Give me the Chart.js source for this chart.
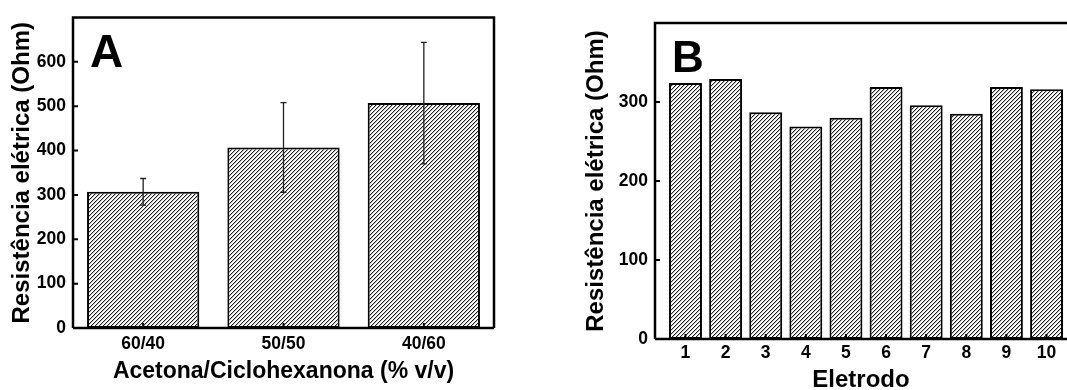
<!DOCTYPE html>
<html>
<head>
  <title>Resistência elétrica</title>
  <style>
    body {
      margin: 0;
      background: #fff;
      width: 1067px;
      height: 390px;
      overflow: hidden;
      position: relative;
    }
    #wrapA { position: absolute; left: 0; top: 0; width: 520px; height: 390px; }
    #wrapB { position: absolute; left: 560px; top: 0; width: 507px; height: 395px; }
  </style>
  <script src="https://cdn.jsdelivr.net/npm/chart.js"></script>
</head>
<body>
  <div id="wrapA"><canvas id="chartA" width="520" height="390"></canvas></div>
  <div id="wrapB"><canvas id="chartB" width="507" height="395"></canvas></div>

<script>
// panel A
const solventRatios = ['60/40', '50/50', '40/60'];
const resistanceA = [307, 407, 507];
const errorA = [30, 101, 137];
const yTicksA = [0, 100, 200, 300, 400, 500, 600];

// panel B
const electrodes = [1, 2, 3, 4, 5, 6, 7, 8, 9, 10];
const resistanceB = [324, 329, 287, 269, 280, 319, 296, 285, 319, 316];
const yTicksB = [0, 100, 200, 300];

const FONT = 'Liberation Sans, Arial, sans-serif';
const tickFont = { family: FONT, size: 17.5, weight: 'bold' };

// diagonal "////" hatch, 4px period
function makeHatch() {
  const c = document.createElement('canvas');
  c.width = 4; c.height = 4;
  const cx = c.getContext('2d');
  const img = cx.createImageData(4, 4);
  for (let y = 0; y < 4; y++) {
    for (let x = 0; x < 4; x++) {
      const k = (x + y) % 4;
      const v = k === 0 ? 30 : (k === 1 ? 195 : 255);
      const i = (y * 4 + x) * 4;
      img.data[i] = v; img.data[i + 1] = v; img.data[i + 2] = v; img.data[i + 3] = 255;
    }
  }
  cx.putImageData(img, 0, 0);
  return cx.createPattern(c, 'repeat');
}
const hatch = makeHatch();

// axis box, inward ticks, error bars and panel letter
const framePlugin = {
  id: 'frame',
  afterDatasetsDraw(chart, args, opts) {
    const { ctx, chartArea: a, scales: { x, y } } = chart;
    ctx.save();

    if (opts.errors) {
      const meta = chart.getDatasetMeta(0);
      ctx.strokeStyle = '#222';
      ctx.lineWidth = 1.3;
      opts.errors.forEach((e, i) => {
        const v = chart.data.datasets[0].data[i];
        const px = meta.data[i].x;
        const top = y.getPixelForValue(v + e);
        const bot = y.getPixelForValue(v - e);
        ctx.beginPath();
        ctx.moveTo(px, top); ctx.lineTo(px, bot);
        ctx.moveTo(px - 3, top); ctx.lineTo(px + 3, top);
        ctx.moveTo(px - 3, bot); ctx.lineTo(px + 3, bot);
        ctx.stroke();
      });
    }

    ctx.strokeStyle = '#000';
    ctx.lineWidth = 2;
    ctx.beginPath();
    y.ticks.forEach(t => {
      const py = y.getPixelForValue(t.value);
      ctx.moveTo(a.left, py); ctx.lineTo(a.left + 5, py);
    });
    x.ticks.forEach((t, i) => {
      const px = x.getPixelForTick(i);
      ctx.moveTo(px, a.bottom); ctx.lineTo(px, a.bottom - 5);
    });
    ctx.stroke();

    ctx.lineWidth = 2.5;
    ctx.beginPath();
    ctx.moveTo(a.left, a.bottom); ctx.lineTo(a.left, a.top); ctx.lineTo(a.right, a.top);
    if (opts.right) ctx.lineTo(a.right, a.bottom);
    ctx.moveTo(a.left, a.bottom); ctx.lineTo(a.right, a.bottom);
    ctx.stroke();

    ctx.fillStyle = '#000';
    ctx.font = 'bold ' + opts.letterSize + 'px ' + FONT;
    ctx.textBaseline = 'alphabetic';
    ctx.fillText(opts.letter, a.left + 17, a.top + 49);
    ctx.restore();
  }
};

function yAxis(max, ticks, width, titlePad) {
  return {
    min: 0,
    max: max,
    afterBuildTicks: s => { s.ticks = ticks.map(v => ({ value: v })); },
    afterFit: s => { s.width = width; },
    grid: { display: false, drawTicks: false },
    border: { display: false },
    ticks: { padding: 7, color: '#000', font: tickFont },
    title: {
      display: true,
      text: 'Resistência elétrica (Ohm)',
      color: '#000',
      font: { family: FONT, size: 24, weight: 'bold' },
      padding: { top: titlePad, bottom: 0 }
    }
  };
}

// --- Panel A ---
new Chart(document.getElementById('chartA'), {
  type: 'bar',
  data: {
    labels: solventRatios,
    datasets: [{
      data: resistanceA,
      backgroundColor: hatch,
      borderColor: '#000',
      borderWidth: 2,
      borderSkipped: false,
      barPercentage: 0.8,
      categoryPercentage: 1
    }]
  },
  options: {
    responsive: false,
    animation: false,
    layout: { padding: { left: 0, top: 14, right: 26, bottom: 0 } },
    plugins: {
      legend: { display: false },
      tooltip: { enabled: false },
      frame: { letter: 'A', letterSize: 46, right: true, errors: errorA }
    },
    scales: {
      x: {
        afterFit: s => { s.height = 62; },
        grid: { display: false, drawTicks: false },
        border: { display: false },
        ticks: { padding: 6, color: '#000', font: tickFont },
        title: {
          display: true,
          text: 'Acetona/Ciclohexanona (% v/v)',
          color: '#000',
          font: { family: FONT, size: 23, weight: 'bold' },
          padding: { top: 0, bottom: 5 }
        }
      },
      y: yAxis(700, yTicksA, 73, 8)
    }
  },
  plugins: [framePlugin]
});

// --- Panel B ---
new Chart(document.getElementById('chartB'), {
  type: 'bar',
  data: {
    datasets: [{
      data: electrodes.map((e, i) => ({ x: e, y: resistanceB[i] })),
      backgroundColor: hatch,
      borderColor: '#000',
      borderWidth: 2,
      borderSkipped: false,
      barPercentage: 0.82,
      categoryPercentage: 1
    }]
  },
  options: {
    responsive: false,
    animation: false,
    layout: { padding: { left: 0, top: 23, right: 0, bottom: 0 } },
    plugins: {
      legend: { display: false },
      tooltip: { enabled: false },
      frame: { letter: 'B', letterSize: 44, right: false }
    },
    scales: {
      x: {
        type: 'linear',
        min: 0.24,
        max: 10.51,
        offset: false,
        afterBuildTicks: s => { s.ticks = electrodes.map(v => ({ value: v })); },
        afterFit: s => { s.height = 56; },
        grid: { display: false, drawTicks: false },
        border: { display: false },
        ticks: { padding: 4, color: '#000', font: tickFont },
        title: {
          display: true,
          text: 'Eletrodo',
          color: '#000',
          font: { family: FONT, size: 24, weight: 'bold' },
          padding: { top: 0, bottom: 0 }
        }
      },
      y: yAxis(400, yTicksB, 95, 22)
    }
  },
  plugins: [framePlugin]
});
</script>
</body>
</html>
